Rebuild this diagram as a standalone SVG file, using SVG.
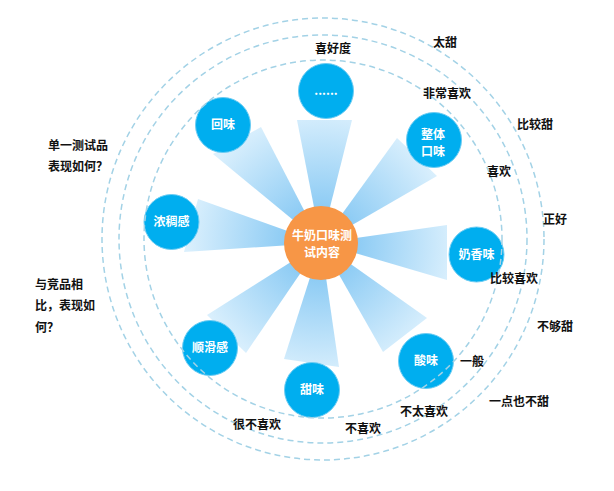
<svg xmlns="http://www.w3.org/2000/svg" width="614" height="491" viewBox="0 0 614 491">
<style>
.ring{fill:none;stroke:#a3d2e6;stroke-width:1.5;stroke-dasharray:6 4}
.node{fill:#00aeef;stroke:#6cccf3;stroke-width:1}
.nt{font-family:"Noto Sans CJK SC","Noto Sans",sans-serif;font-size:12px;font-weight:bold;fill:#ffffff;text-anchor:middle}
.lb{font-family:"Noto Sans CJK SC","Noto Sans",sans-serif;font-size:12px;font-weight:bold;fill:#111111}
.wedge{fill:url(#wg)}
</style>
<defs>
<radialGradient id="wg" gradientUnits="userSpaceOnUse" cx="321" cy="243" r="135">
<stop offset="0.25" stop-color="#8ccbf4"/>
<stop offset="1" stop-color="#dbf0fd"/>
</radialGradient>
</defs>
<rect width="614" height="491" fill="#ffffff"/>
<g id="connectors">
<polygon class="wedge" points="321,243 297,120 352,120"/>
<polygon class="wedge" points="321,243 397,138 437,176"/>
<polygon class="wedge" points="321,243 447,225 447,280"/>
<polygon class="wedge" points="321,243 427,318 383,352"/>
<polygon class="wedge" points="321,243 284,359 339,367"/>
<polygon class="wedge" points="321,243 207,315 246,353"/>
<polygon class="wedge" points="321,243 198,199 184,252"/>
<polygon class="wedge" points="321,243 213,154 261,127"/>
</g>
<g id="center">
<circle cx="321" cy="243" r="37" fill="#f79646"/>
<text class="nt" x="322" y="240">牛奶口味测</text>
<text class="nt" x="322" y="257">试内容</text>
</g>
<g id="node-more"><circle class="node" cx="326" cy="91" r="27.5"/><text class="nt" x="326" y="95">......</text></g>
<g id="node-huiwei"><circle class="node" cx="223" cy="125" r="27.5"/><text class="nt" x="223" y="129">回味</text></g>
<g id="node-zhengti"><circle class="node" cx="434" cy="140" r="27.5"/><text class="nt" x="433" y="139">整体</text><text class="nt" x="433" y="156">口味</text></g>
<g id="node-naixiang"><circle class="node" cx="476.5" cy="254.5" r="27.5"/><text class="nt" x="476.5" y="258.5">奶香味</text></g>
<g id="node-suan"><circle class="node" cx="426" cy="361" r="27.5"/><text class="nt" x="426" y="365">酸味</text></g>
<g id="node-tian"><circle class="node" cx="312" cy="390" r="27.5"/><text class="nt" x="312" y="394">甜味</text></g>
<g id="node-shunhua"><circle class="node" cx="210" cy="348" r="27.5"/><text class="nt" x="210" y="352">顺滑感</text></g>
<g id="node-nongchou"><circle class="node" cx="171.5" cy="222" r="27.5"/><text class="nt" x="171.5" y="226">浓稠感</text></g>
<g id="rings">
<circle class="ring" cx="323" cy="239" r="179"/>
<circle class="ring" cx="323" cy="239" r="204"/>
<circle class="ring" cx="323" cy="239" r="221"/>
</g>
<g id="labels">
<text class="lb" x="315" y="53">喜好度</text>
<text class="lb" x="433" y="47">太甜</text>
<text class="lb" x="423" y="98">非常喜欢</text>
<text class="lb" x="517" y="129">比较甜</text>
<text class="lb" x="487" y="176">喜欢</text>
<text class="lb" x="543" y="224">正好</text>
<text class="lb" x="490" y="283">比较喜欢</text>
<text class="lb" x="537" y="331">不够甜</text>
<text class="lb" x="460" y="366">一般</text>
<text class="lb" x="489" y="406">一点也不甜</text>
<text class="lb" x="400" y="416">不太喜欢</text>
<text class="lb" x="345" y="433">不喜欢</text>
<text class="lb" x="233" y="429">很不喜欢</text>
<text class="lb" x="48" y="150">单一测试品</text>
<text class="lb" x="48" y="171">表现如何？</text>
<text class="lb" x="35" y="289">与竞品相</text>
<text class="lb" x="35" y="310">比，表现如</text>
<text class="lb" x="35" y="332">何？</text>
</g>
</svg>
